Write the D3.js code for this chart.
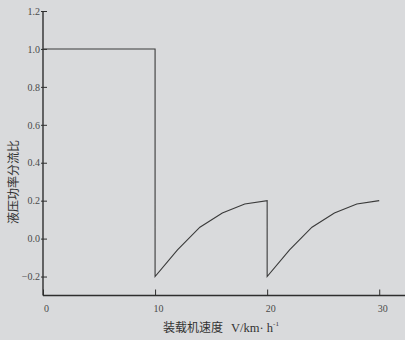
<!DOCTYPE html>
<html>
<head>
<meta charset="utf-8">
<script src="https://cdn.jsdelivr.net/npm/d3@7"></script>
<style>
  html, body { margin: 0; padding: 0; background: #d9dadc; }
  svg { display: block; }
</style>
</head>
<body>
<svg id="chart" width="405" height="340"></svg>
<script>
// Loader speed (km/h) and hydraulic power split ratio
const speed = [0, 10, 10, 12, 14, 16, 18, 20, 20, 22, 24, 26, 28, 30];
const ratio = [1.0, 1.0, -0.2, -0.06, 0.06, 0.135, 0.182, 0.2, -0.2, -0.06, 0.06, 0.135, 0.182, 0.2];
const xTicks = [0, 10, 20, 30];
const yTicks = [-0.2, 0.0, 0.2, 0.4, 0.6, 0.8, 1.0, 1.2];
const xTitleCjk = "装载机速度";
const xTitleUnit = "V/km· h";
const yTitle = "液压功率分流比";

const W = 405, H = 340;
const serif = "'Liberation Serif', 'DejaVu Serif', serif";
const cjk = "'Noto Sans CJK SC', sans-serif";
const svg = d3.select("#chart");

const x = d3.scaleLinear().domain([0, 32.3]).range([43, 405]);
const y = d3.scaleLinear().domain([-0.3, 1.2]).range([295.5, 11]);

const ink = "#2e2e2e";

function styleTickText(g) {
  g.attr("font-family", serif).attr("font-size", 10);
  g.selectAll(".tick text")
    .style("font-family", serif)
    .style("font-size", "10px")
    .attr("fill", "#4a4a4a");
}

// y axis with inward ticks
const gy = svg.append("g")
  .attr("transform", `translate(${x(0)},0)`)
  .call(d3.axisLeft(y).tickValues(yTicks).tickSize(-4).tickPadding(3)
    .tickFormat(d3.format(".1f")));
gy.select(".domain").remove();
gy.selectAll(".tick line").attr("stroke", ink).attr("stroke-width", 1).attr("x1", -2);
gy.call(styleTickText);
gy.append("line").attr("x1", 0).attr("x2", 0).attr("y1", y(1.2)).attr("y2", y(-0.3))
  .attr("stroke", ink).attr("stroke-width", 1.4);

// x axis with inward ticks
const gx = svg.append("g")
  .attr("transform", `translate(0,${y(-0.3)})`)
  .call(d3.axisBottom(x).tickValues(xTicks).tickSize(-6).tickPadding(9)
    .tickFormat(d3.format("d")));
gx.select(".domain").remove();
gx.selectAll(".tick line").attr("stroke", ink).attr("stroke-width", 1).attr("y1", 0);
gx.call(styleTickText);
gx.selectAll(".tick text").attr("dx", 3);
gx.append("line").attr("x1", x(0)).attr("x2", W).attr("y1", 0).attr("y2", 0)
  .attr("stroke", ink).attr("stroke-width", 1.4);

// power split curve
const pts = speed.map((s, i) => [s, ratio[i]]);
svg.append("path")
  .datum(pts)
  .attr("d", d3.line().x(d => x(d[0])).y(d => y(d[1])))
  .attr("fill", "none")
  .attr("stroke", "#3a3a3a")
  .attr("stroke-width", 1.1);

// axis titles
const xt = svg.append("text")
  .attr("x", 221).attr("y", 332)
  .attr("text-anchor", "middle")
  .attr("font-size", 12)
  .attr("fill", "#333");
xt.append("tspan").attr("font-family", cjk).text(xTitleCjk);
xt.append("tspan").attr("font-family", serif).attr("dx", 8).attr("font-size", 12.5).text(xTitleUnit);
xt.append("tspan").attr("font-family", serif).attr("dy", -6).attr("font-size", 7).text("-1");

svg.append("text")
  .attr("transform", "translate(18,182) rotate(-90)")
  .attr("text-anchor", "middle")
  .attr("font-family", cjk)
  .attr("font-size", 12)
  .attr("fill", "#333")
  .text(yTitle);
</script>
</body>
</html>
